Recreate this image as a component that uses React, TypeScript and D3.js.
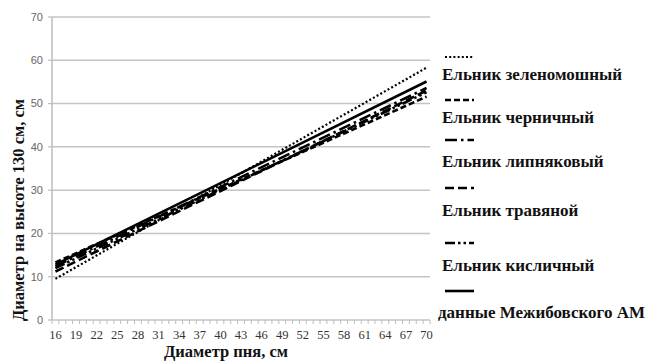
import React from "react";
import * as d3 from "d3";

// Stump diameter classes, cm (category axis)
const categories: number[] = [
  16, 17, 18, 19, 20, 21, 22, 23, 24, 25, 26, 27, 28, 29, 30, 31, 32, 33, 34,
  35, 36, 37, 38, 39, 40, 41, 42, 43, 44, 45, 46, 47, 48, 49, 50, 51, 52, 53,
  54, 55, 56, 57, 58, 59, 60, 61, 62, 63, 64, 65, 66, 67, 68, 69, 70,
];
// Every third class carries a label
const labeledCategories: number[] = [
  16, 19, 22, 25, 28, 31, 34, 37, 40, 43, 46, 49, 52, 55, 58, 61, 64, 67, 70,
];
const yTicks: number[] = [0, 10, 20, 30, 40, 50, 60, 70];

// Series names
const seriesNames: string[] = [
  "Ельник зеленомошный",
  "Ельник черничный",
  "Ельник липняковый",
  "Ельник травяной",
  "Ельник кисличный",
  "данные Межибовского АМ",
];
// Regression lines: diameter at 1.3 m at stump diameter 16 and 70 cm
const lineStartX: number[] = [16, 16, 16, 16, 16, 16];
const lineEndX: number[] = [70, 70, 70, 70, 70, 70];
const valuesAtStart: number[] = [9.5, 13.3, 12.4, 11.2, 12.0, 12.8];
const valuesAtEnd: number[] = [58.3, 51.6, 53.6, 53.0, 52.6, 55.1];

const dashes: string[] = ["2,2.2", "6,3", "12,4,2.5,4", "9,4", "10,3,2.5,3,2.5,3", "none"];

const W = 655;
const H = 362;
const plot = { left: 52, right: 430, top: 17, bottom: 320 };
const serif = "Liberation Serif, Times New Roman, serif";

export default function App() {
  const x = d3
    .scaleBand<number>()
    .domain(categories)
    .range([plot.left, plot.right])
    .paddingInner(0)
    .paddingOuter(0);
  const y = d3.scaleLinear().domain([0, 70]).range([plot.bottom, plot.top]);
  const cx = (v: number) => (x(v) as number) + x.bandwidth() / 2;
  const line = d3
    .line<[number, number]>()
    .x((d) => cx(d[0]))
    .y((d) => y(d[1]));

  const boundaries = categories.map((c) => x(c) as number).concat([plot.right]);

  const legendSampleY = [57, 100, 140, 188, 243, 291];
  const legendTextY = [80, 123, 167, 216, 271, 318];

  return (
    <svg
      width={W}
      height={H}
      style={{ position: "absolute", left: 0, top: 0, background: "#fff" }}
    >
      {/* horizontal gridlines */}
      {yTicks.map((t) => (
        <line
          key={"g" + t}
          x1={plot.left}
          x2={plot.right}
          y1={y(t)}
          y2={y(t)}
          stroke="#c4c4c4"
          strokeWidth={1.5}
        />
      ))}
      {/* y axis line and ticks */}
      <line x1={plot.left} x2={plot.left} y1={plot.top} y2={plot.bottom} stroke="#bdbdbd" strokeWidth={1.5} />
      {yTicks.map((t) => (
        <line key={"yt" + t} x1={plot.left - 4} x2={plot.left} y1={y(t)} y2={y(t)} stroke="#bdbdbd" strokeWidth={1.2} />
      ))}
      {yTicks.map((t) => (
        <text
          key={"yl" + t}
          x={plot.left - 9}
          y={y(t)}
          dy="0.35em"
          textAnchor="end"
          fontFamily="Liberation Sans, Arial, sans-serif"
          fontSize={11}
          fill="#666"
        >
          {t}
        </text>
      ))}
      {/* x axis ticks */}
      {boundaries.map((b, i) => (
        <line key={"xt" + i} x1={b} x2={b} y1={plot.bottom} y2={plot.bottom + 4} stroke="#bdbdbd" strokeWidth={1} />
      ))}
      {labeledCategories.map((c) => (
        <text
          key={"xl" + c}
          x={cx(c)}
          y={plot.bottom + 19}
          textAnchor="middle"
          fontFamily={serif}
          fontSize={12.5}
          fill="#333"
        >
          {c}
        </text>
      ))}
      {/* series lines */}
      {seriesNames.map((name, i) => (
        <path
          key={name}
          d={line([
            [lineStartX[i], valuesAtStart[i]],
            [lineEndX[i], valuesAtEnd[i]],
          ]) as string}
          fill="none"
          stroke="#000"
          strokeWidth={i === 0 ? 2.2 : 2.6}
          strokeDasharray={dashes[i] === "none" ? undefined : dashes[i]}
        />
      ))}
      {/* axis titles */}
      <text
        transform={`translate(24,210) rotate(-90)`}
        textAnchor="middle"
        fontFamily={serif}
        fontWeight="bold"
        fontSize={16.5}
        fill="#111"
      >
        Диаметр на высоте 130 см, см
      </text>
      <text
        x={226}
        y={357}
        textAnchor="middle"
        fontFamily={serif}
        fontWeight="bold"
        fontSize={16.5}
        fill="#111"
      >
        Диаметр пня, см
      </text>
      {/* legend */}
      {seriesNames.map((name, i) => (
        <g key={"lg" + i}>
          <line
            x1={445}
            x2={474}
            y1={legendSampleY[i]}
            y2={legendSampleY[i]}
            stroke="#000"
            strokeWidth={i === 0 ? 2.2 : 2.6}
            strokeDasharray={dashes[i] === "none" ? undefined : dashes[i]}
          />
          <text
            x={i === 5 ? 438 : 442}
            y={legendTextY[i]}
            fontFamily={serif}
            fontWeight="bold"
            fontSize={17}
            fill="#111"
          >
            {name}
          </text>
        </g>
      ))}
    </svg>
  );
}
